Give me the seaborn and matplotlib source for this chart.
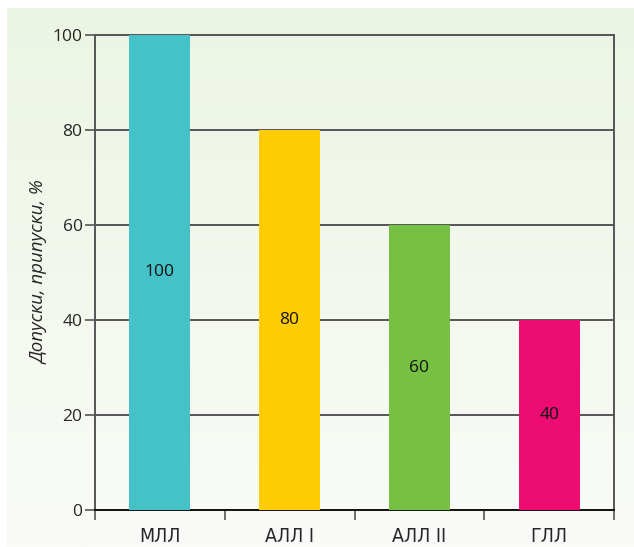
import numpy as np
import pandas as pd
import matplotlib
matplotlib.use("Agg")
import matplotlib.pyplot as plt
import seaborn as sns

categories = ["МЛЛ", "АЛЛ I", "АЛЛ II", "ГЛЛ"]
values = [100, 80, 60, 40]
bar_labels = ["100", "80", "60", "40"]
colors = ["#45C2C8", "#FFCC05", "#76C043", "#EC0C72"]
y_ticks = [0, 20, 40, 60, 80, 100]
y_label = "Допуски, припуски, %"

sns.set_theme(style="white")
plt.rcParams["font.family"] = ["Open Sans", "DejaVu Sans"]

fig = plt.figure(figsize=(6.34, 5.47), dpi=100)
fig.patch.set_facecolor("white")

# gradient background panel
bg = fig.add_axes([7 / 634, 0, 1 - 7 / 634, 1 - 8 / 547], zorder=-10)
top = np.array([236, 245, 228]) / 255
bot = np.array([250, 251, 248]) / 255
t = np.linspace(0, 1, 256)[:, None]
grad = (top[None, :] * (1 - t) + bot[None, :] * t)[:, None, :]
bg.imshow(grad, aspect="auto", extent=[0, 1, 0, 1], origin="upper")
bg.set_axis_off()

ax = fig.add_axes([95 / 634, 1 - 510 / 547, (614 - 95) / 634, (510 - 35) / 547])
ax.patch.set_alpha(0)

df = pd.DataFrame({"cat": categories, "val": values})
sns.barplot(data=df, x="cat", y="val", hue="cat", palette=colors, legend=False,
            width=0.47, ax=ax, zorder=3, saturation=1, linewidth=0, edgecolor="none")

ax.set_xlim(-0.5, 3.5)
ax.set_ylim(0, 100)
ax.set_yticks(y_ticks)
ax.yaxis.grid(True, color="#555555", linewidth=1.4, zorder=0)
ax.set_axisbelow(True)

for i, (v, lab) in enumerate(zip(values, bar_labels)):
    ax.text(i, v / 2, lab, ha="center", va="center", fontsize=12.5, color="#111111", zorder=5)

for s in ["left", "top", "right"]:
    ax.spines[s].set_color("#555555")
    ax.spines[s].set_linewidth(1.4)
ax.spines["bottom"].set_color("#111111")
ax.spines["bottom"].set_linewidth(1.4)

ax.set_xticks([-0.5, 0.5, 1.5, 2.5, 3.5], minor=False)
ax.set_xticklabels([])
ax.set_xticks([0, 1, 2, 3], minor=True)
ax.set_xticklabels(categories, minor=True, fontsize=14,
                   family=["DejaVu Sans"], fontstretch="condensed")
ax.tick_params(axis="x", which="major", length=7, width=1.2, color="#555555", direction="out", bottom=True)
ax.tick_params(axis="x", which="minor", length=0, pad=12)
ax.tick_params(axis="y", length=7, width=1.2, color="#555555", direction="out", left=True, labelsize=12.5, pad=2)

ax.set_xlabel("")
ax.set_ylabel(y_label, fontsize=13.5, style="italic", labelpad=3)

fig.savefig("out.png", dpi=100)
